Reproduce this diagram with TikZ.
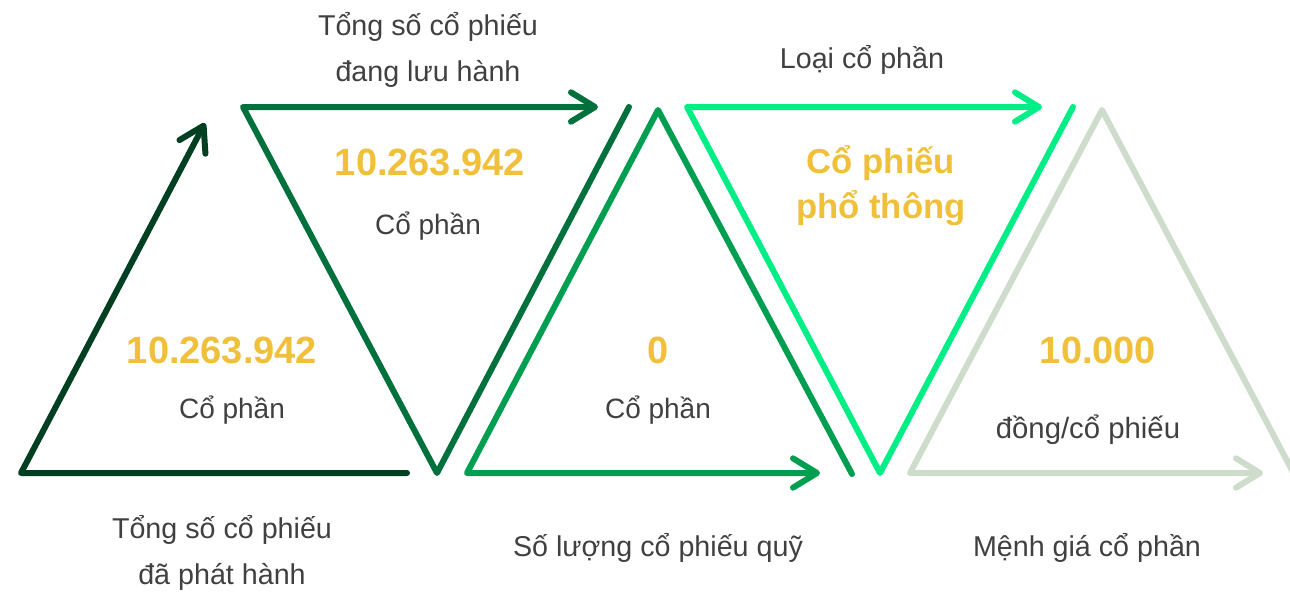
\documentclass[tikz,border=0pt]{standalone}
\usepackage{fontspec}
\setmainfont{Liberation Sans}
\usetikzlibrary{arrows.meta}

\definecolor{legA}{HTML}{003F22}
\definecolor{legB}{HTML}{00703C}
\definecolor{legC}{HTML}{009E50}
\definecolor{legD}{HTML}{00EE85}
\definecolor{legE}{HTML}{CDDCCB}
\definecolor{numyellow}{HTML}{F0C03A}
\definecolor{labelgrey}{HTML}{404040}

\begin{document}
\begin{tikzpicture}[x=0.75pt,y=-0.75pt,
        leg/.style={line width=4.5pt,line cap=round,line join=round},
        tip/.style={-{Straight Barb[length=18pt,width=22pt,line width=4.5pt,round]}},
        num/.style={text=numyellow,inner sep=0pt,align=center,font=\fontsize{28.5}{34}\selectfont\bfseries},
        unit/.style={text=labelgrey,inner sep=0pt,font=\fontsize{21}{24}\selectfont},
        caption/.style={text=labelgrey,inner sep=0pt,align=center,font=\fontsize{21.5}{34}\selectfont}]
        \useasboundingbox (0,0) rectangle (1290,593);
        % corners of the five legs
        \coordinate (a1) at (407,473);
        \coordinate (a2) at (21,473);
        \coordinate (a3) at (205,123);
        \coordinate (b1) at (629,107);
        \coordinate (b2) at (437,473);
        \coordinate (b3) at (243,107);
        \coordinate (b4) at (598,107);
        \coordinate (c1) at (852,474);
        \coordinate (c2) at (658,110);
        \coordinate (c3) at (467,473);
        \coordinate (c4) at (820,473);
        \coordinate (d1) at (1073,107);
        \coordinate (d2) at (880,473);
        \coordinate (d3) at (687,107);
        \coordinate (d4) at (1042,107);
        \coordinate (e1) at (1294,474);
        \coordinate (e2) at (1102,110);
        \coordinate (e3) at (910,473);
        \coordinate (e4) at (1263,473);
        \draw[leg,tip,color=legA] (a1) -- (a2) -- (a3);
        \draw[leg,tip,color=legB] (b1) -- (b2) -- (b3) -- (b4);
        \draw[leg,tip,color=legC] (c1) -- (c2) -- (c3) -- (c4);
        \draw[leg,tip,color=legD] (d1) -- (d2) -- (d3) -- (d4);
        \draw[leg,tip,color=legE] (e1) -- (e2) -- (e3) -- (e4);
        % issued
        \node[num] (issuedNum) at (222,350) {10.263.942};
        \node[unit] (issuedUnit) at (232,410) {Cổ phần};
        \node[caption] (issuedCap) at (222,553) {Tổng số cổ phiếu\\đã phát hành};
        % outstanding
        \node[caption] (outCap) at (428,50) {Tổng số cổ phiếu\\đang lưu hành};
        \node[num] (outNum) at (430,162) {10.263.942};
        \node[unit] (outUnit) at (428,226) {Cổ phần};
        % treasury
        \node[num] (treasNum) at (658,350) {0};
        \node[unit] (treasUnit) at (658,410) {Cổ phần};
        \node[caption] (treasCap) at (658,548) {Số lượng cổ phiếu quỹ};
        % type
        \node[caption] (typeCap) at (862,60) {Loại cổ phần};
        \node[num,font=\fontsize{26}{34}\selectfont\bfseries] (typeVal) at (881,186) {Cổ phiếu\\phổ thông};
        % par value
        \node[num] (parNum) at (1098,350) {10.000};
        \node[unit,font=\fontsize{22}{24}\selectfont] (parUnit) at (1088,430) {đồng/cổ phiếu};
        \node[caption] (parCap) at (1087,548) {Mệnh giá cổ phần};
    \end{tikzpicture}
\end{document}
